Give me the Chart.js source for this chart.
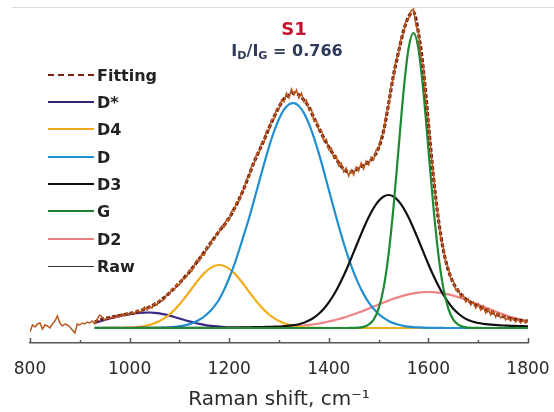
<!DOCTYPE html>
<html><head><meta charset="utf-8">
<script src="https://cdn.jsdelivr.net/npm/chart.js@4.4.1/dist/chart.umd.min.js"></script>
<style>
html,body{margin:0;padding:0;background:#fff;}
#wrap{position:relative;width:554px;height:412px;overflow:hidden;background:#fff;}
#topline{position:absolute;left:12px;top:7px;width:542px;height:0;border-top:1px solid #d9d9d9;}
canvas{position:absolute;left:0;top:0;}
.ttl{position:absolute;text-align:center;font-family:"DejaVu Sans";font-weight:bold;white-space:nowrap;}
.ttl sub{font-size:70%;vertical-align:-3px;line-height:0;}
.li{position:absolute;left:48px;height:20px;display:flex;align-items:center;font-family:"DejaVu Sans";font-weight:bold;font-size:16px;color:#222;white-space:nowrap;}
.sw{width:46px;height:0;margin-right:3px;}
</style></head><body>
<div id="wrap">
<canvas id="c" width="554" height="412"></canvas>
<div id="topline"></div>
<div class="ttl" id="t1" style="left:244px;width:100px;top:19px;font-size:18px;line-height:20px;color:#c4122e;">S1</div>
<div class="ttl" id="t2" style="left:207px;width:160px;top:42px;font-size:16px;line-height:18px;color:#2f3a5a;">I<sub>D</sub>/I<sub>G</sub> = 0.766</div>
<div id="legend"></div>
</div>
<script>
// x grids (Raman shift, cm-1)
const fitShift = []; for (let v = 930; v <= 1800; v += 10) fitShift.push(v);
const rawShift = []; for (let v = 800; v <= 1800; v += 5) rawShift.push(v);
const xTickLabels = [800, 1000, 1200, 1400, 1600, 1800];

// Raw spectrum (intensity, a.u.)
const rawIntensity = [
 -4,3,1,4,5,-1,3,2,0,4,
 7,12,5,2,4,3,1,-2,-5,4,
 3,5,4,6,5,7,4,9,13,11,
 8,10,9,11,10,13,11,14,12,15,
 13,16,14,18,16,17,21,18,22,20,
 25,23,28,27,29,34,34,39,38,44,
 43,49,49,52,58,57,63,68,67,74,
 73,80,81,88,88,95,96,102,101,109,
 108,117,117,126,127,136,139,149,151,162,
 164,174,175,185,186,197,198,208,209,219,
 219,228,226,235,230,239,233,238,230,235,
 226,228,218,219,207,208,197,198,187,189,
 178,180,170,172,162,165,156,160,152,158,
 153,161,157,165,159,167,163,171,168,178,
 178,191,195,213,222,241,251,268,274,290,
 295,307,309,317,319,303,296,272,261,228,
 207,176,154,127,111,90,80,65,60,49,
 47,38,39,31,33,26,29,23,26,20,
 24,18,22,15,19,13,17,11,15,10,
 13,8,11,7,10,6,9,5,8,5,
 8
];
// Fitting envelope
const fitting = [
 6,8,9.5,10.5,11.5,12.5,13.5,14.5,15.5,17,
 19,21,23.5,26.5,30.5,35,40,45,50.5,56,
 62.5,69,76,83,90,97,103,110,119,129,
 140,153,166,177,188,200,211,221,229,233,
 235,233,228,221,210,200,190,181,173,165,
 159,156,157,160,163,166,171,180,197,224,
 253,276,297,311,316,295,258,205,152,109,
 78,58,45,37,31,27,24,22,19.5,17,
 15,13,11.5,10,9,8,7.5,7
];
const bandDstar = [
 5,6.5,8,9.5,10.8,12,13,13.8,14.5,15,
 15.4,15.5,15.2,14.6,13.6,12.4,11,9.5,8,6.6,
 5.3,4.2,3.2,2.4,1.8,1.3,0.9,0.7,0.5,0.4,
 0.3,0.2,0.2,0.1,0.1,0,0,0,0,0,
 0,0,0,0,0,0,0,0,0,0,
 0,0,0,0,0,0,0,0,0,0,
 0,0,0,0,0,0,0,0,0,0,
 0,0,0,0,0,0,0,0,0,0,
 0,0,0,0,0,0,0,0
];
const bandD4 = [
 0,0,0,0.05,0.1,0.1,0.25,0.4,0.7,1.2,
 2.0,3.1,4.7,6.9,9.8,13.5,18.1,23.5,29.6,36.2,
 42.9,49.3,54.9,59.2,62.0,63,62.0,59.2,54.9,49.3,
 42.9,36.2,29.6,23.5,18.1,13.5,9.8,6.9,4.7,3.1,
 2.0,1.2,0.7,0.4,0.25,0.1,0,0,0,0,
 0,0,0,0,0,0,0,0,0,0,
 0,0,0,0,0,0,0,0,0,0,
 0,0,0,0,0,0,0,0,0,0,
 0,0,0,0,0,0,0,0
];
const bandD = [
 0,0,0,0,0,0,0,0,0.02,0.03,
 0.05,0.09,0.16,0.27,0.44,0.7,1.1,1.7,2.6,3.9,
 5.7,8.2,11.5,15.9,21.6,28.8,38.5,50,63,78,
 94,110,128,146,164.1,181.3,196.5,209.0,218.3,223.7,
 224.9,222.0,215.0,204.4,190.7,174.6,156.9,138.3,119.7,101.7,
 84.8,69.3,55.7,43.9,33.9,25.7,19.2,14.0,10.1,7.1,
 4.9,3.3,2.2,1.44,0.93,0.58,0.36,0.22,0.13,0.08,
 0.04,0,0,0,0,0,0,0,0,0,
 0,0,0,0,0,0,0,0
];
const bandD3 = [
 0.2,0.2,0.2,0.2,0.2,0.2,0.2,0.2,0.2,0.2,
 0.2,0.2,0.2,0.2,0.2,0.2,0.2,0.2,0.2,0.2,
 0.2,0.2,0.2,0.2,0.2,0.2,0.2,0.2,0.4,0.5,
 0.6,0.7,0.8,0.9,1.0,1.1,1.3,1.5,1.9,2.3,
 2.9,3.8,5.3,7.4,10.4,14.3,19.3,25.7,33.3,42.3,
 52.5,63.8,75.8,88.0,99.8,110.7,120.0,127.0,131.5,133,
 131.5,127.0,120.0,110.7,99.8,88.0,75.8,63.8,52.5,42.3,
 33.3,25.7,19.3,14.5,10.7,7.9,6.2,5.0,4.2,3.6,
 3.2,2.8,2.5,2.3,2.1,1.9,1.8,1.7
];
const bandG = [
 0,0,0,0,0,0,0,0,0,0,
 0,0,0,0,0,0,0,0,0,0,
 0,0,0,0,0,0,0,0,0,0,
 0,0,0,0,0,0,0,0,0,0,
 0,0,0,0,0,0,0,0,0,0,
 0,0.03,0.1,0.35,1.1,3.3,8.4,19.4,39.9,73.6,
 121.3,178.9,236.2,279.1,295,279.1,236.2,178.9,121.3,73.6,
 39.9,19.4,8.4,3.3,1.1,0.35,0.1,0.03,0,0,
 0,0,0,0,0,0,0,0
];
const bandD2 = [
 0,0,0,0,0,0,0,0,0,0,
 0,0,0,0,0,0,0,0,0,0,
 0,0,0,0,0,0,0,0.04,0.05,0.08,
 0.1,0.14,0.19,0.26,0.35,0.45,0.59,0.76,0.98,1.25,
 1.58,1.98,2.47,3.05,3.73,4.53,5.45,6.49,7.66,8.97,
 10.41,12.0,13.69,15.5,17.4,19.38,21.4,23.44,25.45,27.37,
 29.18,30.85,32.34,33.61,34.64,35.39,35.85,36,35.85,35.39,
 34.64,33.61,32.34,30.85,29.18,27.37,25.45,23.44,21.4,19.38,
 17.4,15.5,13.69,12.0,10.41,8.97,7.66,6.49
];

const legendNames = ['Fitting','D*','D4','D','D3','G','D2','Raw'];
const legendColors = ['#7a2212','#2e2670','#f0a91a','#1f8fd0','#111111','#1f7f32','#e98080','#3a3030'];

function pts(xs, ys){ return xs.map((x,i)=>({x:x, y:ys[i]})); }

const comp = (label, data, color, order) => ({
  label, data: pts(fitShift, data), borderColor: color, borderWidth: 2.2,
  pointRadius: 0, cubicInterpolationMode: 'monotone', fill: false, order
});

const datasets = [
  {label:'Raw', data: pts(rawShift, rawIntensity), borderColor:'#b9581f', borderWidth:1.5, pointRadius:0, tension:0, fill:false, order:0},
  {label:'Fitting', data: pts(fitShift, fitting), borderColor:'#6e1b0c', borderWidth:3.2, borderDash:[4,2], pointRadius:0, cubicInterpolationMode:'monotone', fill:false, order:1},
  comp('G', bandG, '#1f8a34', 2),
  comp('D3', bandD3, '#111111', 3),
  comp('D', bandD, '#1f8fd0', 4),
  comp('D4', bandD4, '#f2ae1a', 5),
  comp('D2', bandD2, '#ee8585', 6),
  comp('D*', bandDstar, '#3b2a86', 7)
];

const tickMarks = {
  id:'tickMarks',
  afterDraw(chart){
    const sx = chart.scales.x, ctx = chart.ctx;
    ctx.save(); ctx.strokeStyle = '#555'; ctx.lineWidth = 1.5;
    sx.ticks.forEach(t => {
      const px = Math.round(sx.getPixelForValue(t.value)) + 0.5;
      const len = xTickLabels.includes(t.value) ? 5 : 3;
      ctx.beginPath(); ctx.moveTo(px, sx.top); ctx.lineTo(px, sx.top - len); ctx.stroke();
    });
    ctx.restore();
  }
};

new Chart(document.getElementById('c'), {
  type: 'line',
  data: { datasets },
  options: {
    responsive: false, animation: false,
    layout: { padding: { left: 30, right: 26, top: 8, bottom: 0 } },
    plugins: { legend: { display: false }, tooltip: { enabled: false }, title: { display: false } },
    scales: {
      x: {
        type: 'linear', min: 800, max: 1800,
        afterFit(s){ s.height = 69; s.paddingLeft = 0; s.paddingRight = 0; },
        grid: { display: false, drawTicks: false },
        border: { display: true, color: '#555', width: 1.5 },
        ticks: { stepSize: 100, autoSkip: false, maxRotation: 0, padding: 16,
          color: '#2a2a2a', font: { family: 'DejaVu Sans', size: 17 },
          callback: v => xTickLabels.includes(v) ? String(v) : '' },
        title: { display: true, text: 'Raman shift, cm\u207B\u00B9', color: '#2a2a2a',
          font: { family: 'DejaVu Sans', size: 20 }, padding: { top: 0, bottom: 0 } }
      },
      y: { display: false, min: -15, max: 320 }
    }
  },
  plugins: [tickMarks]
});

// HTML legend built from series names/colours
const legendY = [75, 102, 129, 157, 184, 211, 239, 266];
const lg = document.getElementById('legend');
legendNames.forEach((name, i) => {
  const row = document.createElement('div'); row.className = 'li';
  row.style.top = (legendY[i] - 10) + 'px';
  const sw = document.createElement('span'); sw.className = 'sw';
  if (name === 'Fitting') sw.style.borderTop = '2.5px dashed ' + legendColors[i];
  else if (name === 'Raw') sw.style.borderTop = '1.5px solid ' + legendColors[i];
  else sw.style.borderTop = '2.5px solid ' + legendColors[i];
  const tx = document.createElement('span'); tx.textContent = name;
  row.appendChild(sw); row.appendChild(tx); lg.appendChild(row);
});
</script>
</body></html>
